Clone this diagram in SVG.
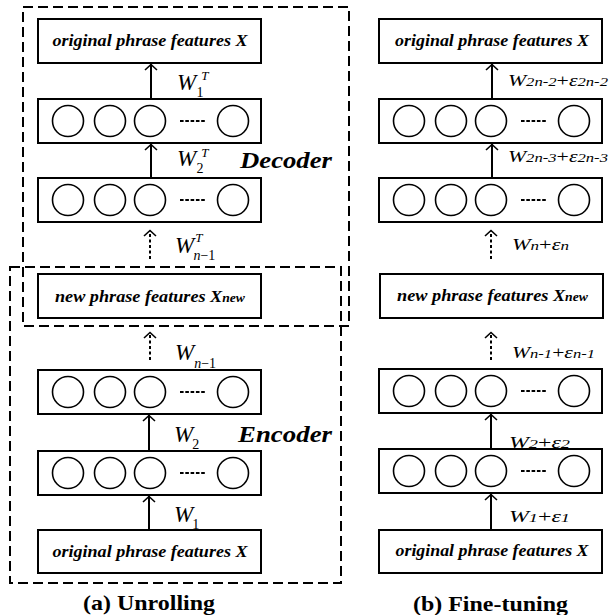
<svg xmlns="http://www.w3.org/2000/svg" width="609" height="615" viewBox="0 0 609 615">
<defs>
<style>
text{font-family:"Liberation Serif",Tinos,"Times New Roman",Times,serif;fill:#000}
.box{fill:#fff;stroke:#000;stroke-width:2}
.grp{fill:none;stroke:#000;stroke-width:2;stroke-dasharray:10 5}
.c{fill:#fff;stroke:#000;stroke-width:1.6}
.dots{stroke:#000;stroke-width:2;stroke-dasharray:3.6 1.7}
.arr{stroke:#000;stroke-width:2;fill:none}
.darr{stroke:#000;stroke-width:2;fill:none;stroke-dasharray:3 2.5}
.head{stroke:#000;stroke-width:1.6;fill:none}
.bt{font-weight:bold;font-style:italic;font-size:16px}
.w{font-style:italic;font-size:23px}
.sup{font-style:italic;font-size:13px}
.sub{font-style:normal;font-size:14px}
.it{font-style:italic}
.big{font-weight:bold;font-style:italic;font-size:24px}
.cap{font-weight:bold;font-size:22px}
.rl{font-style:italic;font-size:17px}
.rs{font-size:13px}
.up{font-style:normal}
</style>
<g id="layerL">
<rect class="box" x="0" y="0" width="223" height="44"/>
<circle class="c" cx="30" cy="22" r="15.5"/>
<circle class="c" cx="72" cy="22" r="15.5"/>
<circle class="c" cx="112" cy="22" r="15.5"/>
<circle class="c" cx="195" cy="22" r="15.5"/>
<line class="dots" x1="142" y1="22" x2="167" y2="22"/>
</g>
</defs>

<g id="decoder-group"><rect class="grp" x="23" y="7" width="326" height="319"/>
<text class="big" x="240" y="168" textLength="92" lengthAdjust="spacingAndGlyphs">Decoder</text></g>
<g id="encoder-group"><rect class="grp" x="10" y="267" width="331" height="316"/>
<text class="big" x="238" y="442" textLength="94" lengthAdjust="spacingAndGlyphs">Encoder</text></g>

<g id="a-top"><rect class="box" x="38" y="19" width="223" height="44"/>
<text class="bt" x="150" y="46" text-anchor="middle" textLength="195" lengthAdjust="spacingAndGlyphs">original phrase features X</text></g>
<g id="a-d1"><use href="#layerL" x="38" y="99"/></g>
<g id="a-d2"><use href="#layerL" x="38" y="178"/></g>
<g id="a-new"><rect class="box" x="38" y="274" width="223" height="44"/>
<text class="bt" x="55" y="302" textLength="190" lengthAdjust="spacingAndGlyphs">new phrase features X<tspan font-size="12">new</tspan></text></g>
<g id="a-e2"><use href="#layerL" x="38" y="370"/></g>
<g id="a-e1"><use href="#layerL" x="38" y="451"/></g>
<g id="a-bottom"><rect class="box" x="38" y="530" width="223" height="43"/>
<text class="bt" x="150" y="557" text-anchor="middle" textLength="195" lengthAdjust="spacingAndGlyphs">original phrase features X</text></g>

<g id="b-top"><rect class="box" x="379" y="19" width="223" height="44"/>
<text class="bt" x="492" y="46" text-anchor="middle" textLength="194" lengthAdjust="spacingAndGlyphs">original phrase features X</text></g>
<g id="b-d1"><use href="#layerL" x="379" y="99"/></g>
<g id="b-d2"><use href="#layerL" x="379" y="178"/></g>
<g id="b-new"><rect class="box" x="380" y="274" width="223" height="44"/>
<text class="bt" x="397" y="301" textLength="191" lengthAdjust="spacingAndGlyphs">new phrase features X<tspan font-size="12">new</tspan></text></g>
<g id="b-e2"><use href="#layerL" x="379" y="369"/></g>
<g id="b-e1"><use href="#layerL" x="379" y="449"/></g>
<g id="b-bottom"><rect class="box" x="379" y="530" width="223" height="43"/>
<text class="bt" x="492" y="556" text-anchor="middle" textLength="193" lengthAdjust="spacingAndGlyphs">original phrase features X</text></g>

<g id="connectors">
<line class="arr" x1="151" y1="99" x2="151" y2="64"/><polyline class="head" points="145,70 151,64.5 157,70"/>
<line class="arr" x1="151" y1="178" x2="151" y2="144"/><polyline class="head" points="145,150 151,144.5 157,150"/>
<line class="darr" x1="150" y1="259" x2="150" y2="231"/><polyline class="head" points="144,236 150,230.5 156,236"/>
<line class="darr" x1="150" y1="360" x2="150" y2="334"/><polyline class="head" points="144,338 150,332.5 156,338"/>
<line class="arr" x1="149" y1="451" x2="149" y2="415"/><polyline class="head" points="143,421 149,415.5 155,421"/>
<line class="arr" x1="149" y1="530" x2="149" y2="496"/><polyline class="head" points="143,502 149,496.5 155,502"/>

<line class="arr" x1="492" y1="99" x2="492" y2="64"/><polyline class="head" points="486,70 492,64.5 498,70"/>
<line class="arr" x1="492" y1="178" x2="492" y2="144"/><polyline class="head" points="486,150 492,144.5 498,150"/>
<line class="darr" x1="491" y1="259" x2="491" y2="231"/><polyline class="head" points="485,236 491,230.5 497,236"/>
<line class="darr" x1="491" y1="360" x2="491" y2="334"/><polyline class="head" points="485,338 491,332.5 497,338"/>
<line class="arr" x1="491" y1="449" x2="491" y2="414"/><polyline class="head" points="485,420 491,414.5 497,420"/>
<line class="arr" x1="491" y1="530" x2="491" y2="494" stroke-width="1.4"/><polyline class="head" points="485,500 491,494.5 497,500"/>
</g>

<g id="labels-a">
<text class="w" x="177" y="90">W<tspan class="sup" dx="5" dy="-10">T</tspan><tspan class="sub" dx="-12" dy="17">1</tspan></text>
<text class="w" x="177" y="166">W<tspan class="sup" dx="5" dy="-9">T</tspan><tspan class="sub" dx="-12" dy="16">2</tspan></text>
<text class="w" x="175" y="253">W<tspan class="sup" dx="1" dy="-11">T</tspan><tspan class="sub" dx="-9" dy="18"><tspan class="it">n</tspan>−1</tspan></text>
<text class="w" x="175" y="360">W<tspan class="sub" dy="8"><tspan class="it">n</tspan>−1</tspan></text>
<text class="w" x="174" y="442">W<tspan class="sub" dx="-1" dy="7">2</tspan></text>
<text class="w" x="174" y="522">W<tspan class="sub" dx="-1" dy="7">1</tspan></text>
</g>

<g id="labels-b">
<text class="rl" x="508" y="86" textLength="100" lengthAdjust="spacingAndGlyphs">W<tspan class="rs">2n-2</tspan><tspan class="up">+</tspan>ε<tspan class="rs">2n-2</tspan></text>
<text class="rl" x="508" y="162" textLength="100" lengthAdjust="spacingAndGlyphs">W<tspan class="rs">2n-3</tspan><tspan class="up">+</tspan>ε<tspan class="rs">2n-3</tspan></text>
<text class="rl" x="512" y="250" textLength="57" lengthAdjust="spacingAndGlyphs">W<tspan class="rs">n</tspan><tspan class="up">+</tspan>ε<tspan class="rs">n</tspan></text>
<text class="rl" x="512" y="358" textLength="83" lengthAdjust="spacingAndGlyphs">W<tspan class="rs">n-1</tspan><tspan class="up">+</tspan>ε<tspan class="rs">n-1</tspan></text>
<text class="rl" x="509" y="448" textLength="61" lengthAdjust="spacingAndGlyphs">W<tspan class="rs">2</tspan><tspan class="up">+</tspan>ε<tspan class="rs">2</tspan></text>
<text class="rl" x="509" y="522" textLength="61" lengthAdjust="spacingAndGlyphs">W<tspan class="rs">1</tspan><tspan class="up">+</tspan>ε<tspan class="rs">1</tspan></text>
</g>

<g id="captions">
<text class="cap" x="83" y="610" textLength="132" lengthAdjust="spacingAndGlyphs">(a) Unrolling</text>
<text class="cap" x="413" y="611" textLength="155" lengthAdjust="spacingAndGlyphs">(b) Fine-tuning</text>
</g>
</svg>
